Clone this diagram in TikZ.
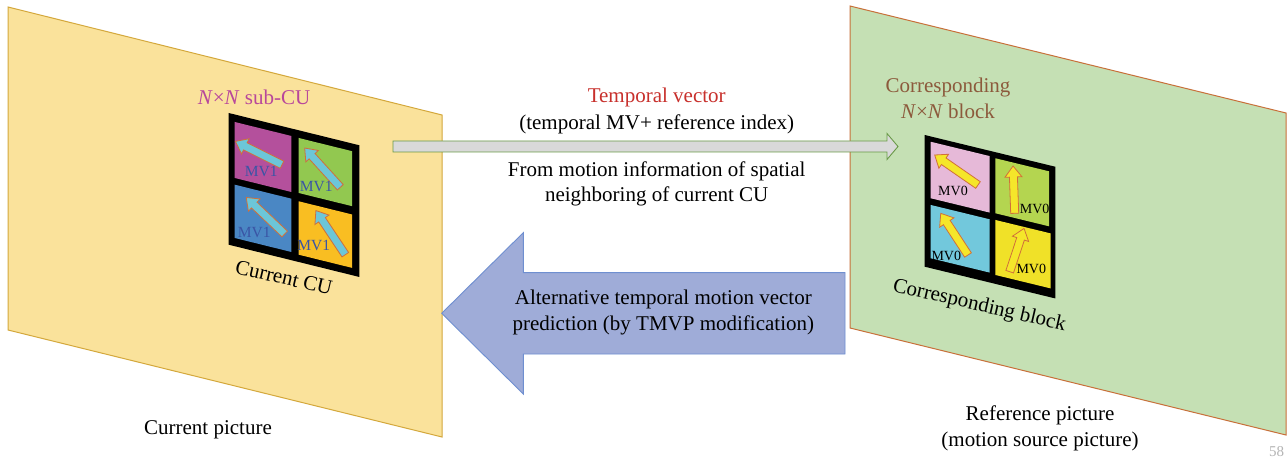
\documentclass[tikz,border=0pt]{standalone}
\usepackage{fontspec}
\setmainfont{Liberation Serif}
\definecolor{yelfill}{HTML}{FAE29B}
\definecolor{yelline}{HTML}{D4A83C}
\definecolor{grefill}{HTML}{C5E0B4}
\definecolor{greline}{HTML}{C8703A}
\definecolor{cmag}{HTML}{B4509C}
\definecolor{cgrn}{HTML}{92C850}
\definecolor{cblu}{HTML}{4A87C4}
\definecolor{corg}{HTML}{F9BE22}
\definecolor{cpink}{HTML}{E6B9D8}
\definecolor{cgrn2}{HTML}{B4D550}
\definecolor{ccyan}{HTML}{72C8DC}
\definecolor{cyel}{HTML}{F0E128}
\definecolor{arrcyan}{HTML}{6CC6D8}
\definecolor{arryel}{HTML}{F5E62A}
\definecolor{arrline}{HTML}{D0703A}
\definecolor{mvblue}{HTML}{3A55A5}
\definecolor{nnmag}{HTML}{B8479B}
\definecolor{corrbrown}{HTML}{8C5A3C}
\definecolor{tvred}{HTML}{C8302C}
\definecolor{grayarr}{HTML}{D9D9D9}
\definecolor{grayline}{HTML}{6A9A48}
\definecolor{bluearr}{HTML}{9FACD8}
\definecolor{blueline}{HTML}{6F8FD0}
\definecolor{pagegray}{HTML}{B4B4B4}
\begin{document}
\begin{tikzpicture}[x=1pt,y=-1pt,
  txt/.style={font=\fontsize{21}{25.5}\selectfont, align=center, inner sep=0pt},
  mvone/.style={font=\fontsize{15.5}{17}\selectfont, text=mvblue, inner sep=0pt},
  mvzero/.style={font=\fontsize{14}{15}\selectfont, text=black, inner sep=0pt},
  cyanarr/.style={draw=arrline, fill=arrcyan, line width=0.8pt, line join=miter},
  yelarr/.style={draw=arrline, fill=arryel, line width=0.8pt, line join=miter},
  pics/barrow/.style={code={
    \draw[pic actions] (0,-4) -- ({#1-11},-4) -- ({#1-11},-8.5) -- (#1,0)
      -- ({#1-11},8.5) -- ({#1-11},4) -- (0,4) -- cycle;}}]
\path[use as bounding box, fill=white] (0,0) rectangle (1287,462);

% picture planes
\draw[draw=yelline, fill=yelfill, line width=1pt] (8,7) -- (442,115) -- (442,437) -- (8,330) -- cycle;
\draw[draw=greline, fill=grefill, line width=1pt] (850,6) -- (1286,113) -- (1286,435) -- (850,328) -- cycle;

% current CU grid
\begin{scope}[shift={(228.7,113)}, yslant=-0.247]
  \fill[black] (0,0) rectangle (130.6,131.7);
  \fill[cmag] (6,7.5) rectangle (62.6,63.5);
  \fill[cgrn] (70,7.7) rectangle (123.5,62.7);
  \fill[cblu] (6,70.2) rectangle (62.6,123.5);
  \fill[corg] (70,71) rectangle (123.5,124.4);
\end{scope}
\pic[cyanarr, rotate=153.4] at (282,164.7) {barrow=52};
\pic[cyanarr, rotate=132.2] at (340.3,187.3) {barrow=53};
\pic[cyanarr, rotate=136.5] at (284.7,234) {barrow=53};
\pic[cyanarr, rotate=123.7] at (345.3,254.7) {barrow=53};
\node[mvone] (mv1a) at (261.3,171.3) {MV1};
\node[mvone] (mv1b) at (316.3,186.3) {MV1};
\node[mvone] (mv1c) at (254.3,233) {MV1};
\node[mvone] (mv1d) at (313.7,245.3) {MV1};

% corresponding block grid
\begin{scope}[shift={(924.7,135)}, yslant=-0.243]
  \fill[black] (0,0) rectangle (130.6,131.7);
  \fill[cpink] (6,5.3) rectangle (65,61.8);
  \fill[cgrn2] (70.6,6.1) rectangle (124.5,61.1);
  \fill[ccyan] (6,68.5) rectangle (65,121.8);
  \fill[cyel] (70.6,67.8) rectangle (126,122.8);
\end{scope}
\pic[yelarr, rotate=145.3] at (978,185) {barrow=52.7};
\pic[yelarr, rotate=92] at (1014.7,213.3) {barrow=47.3};
\pic[yelarr, rotate=123.2] at (968,255) {barrow=49.8};
\pic[yelarr, rotate=71.7] at (1009.7,271.7) {barrow=45.6};
\node[mvzero] (mv0a) at (953,190.7) {MV0};
\node[mvzero] (mv0b) at (1034.7,209.3) {MV0};
\node[mvzero] (mv0c) at (946.3,256) {MV0};
\node[mvzero] (mv0d) at (1031.3,269.3) {MV0};

% labels on planes
\node[txt, text=nnmag] (nnsub) at (254,97.3) {\textit{N}×\textit{N} sub-CU};
\node[txt, rotate=-13] (curcu) at (284,277.5) {Current CU};
\node[txt] (curpic) at (208,430) {Current picture};
\node[txt, text=corrbrown] (corrnn) at (948,98.5) {Corresponding\\\textit{N}×\textit{N} block};
\node[txt, rotate=-13] (corrblk) at (979.3,306) {Corresponding block};
\node[txt] (refpic) at (1040,428.5) {Reference picture\\(motion source picture)};
\node[font=\fontsize{15}{17}\selectfont, text=pagegray, inner sep=0pt] (pgnum) at (1276.5,452) {58};

% gray temporal arrow
\coordinate (gtail) at (393,146.5);
\coordinate (gtip) at (898,146.5);
\draw[draw=grayline, fill=grayarr, line width=0.9pt, line join=miter]
  (gtail) ++(0,-5.5) -- (887,141) -- (887,133.5) -- (gtip) -- (887,159.5) -- (887,152) -- (393,152) -- cycle;
\node[txt, text=tvred] (tv) at (656.7,97.3) {Temporal vector};
\node[txt] (tvsub) at (656.7,124.3) {(temporal MV+ reference index)};
\node[txt] (from) at (656.7,183.7) {From motion information of spatial\\neighboring of current CU};

% blue alternative arrow
\coordinate (btip) at (441.7,313.3);
\draw[draw=blueline, fill=bluearr, line width=0.9pt, line join=miter]
  (btip) -- (523.3,232.7) -- (523.3,272.7) -- (845,272.7) -- (845,354) -- (523.3,354) -- (523.3,394) -- cycle;
\node[txt] (alt) at (663.3,312.5) {Alternative temporal motion vector\\prediction (by TMVP modification)};
\end{tikzpicture}
\end{document}
